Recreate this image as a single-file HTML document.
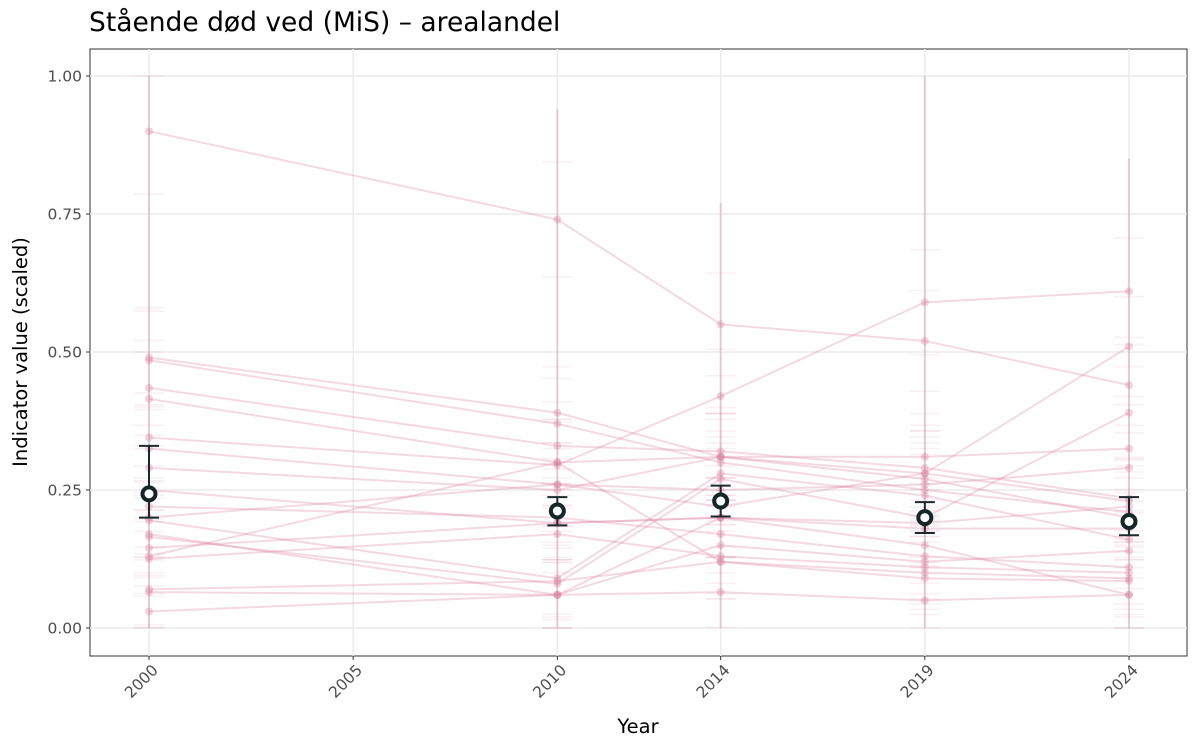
<!DOCTYPE html>
<html><head><meta charset="utf-8"><style>body{margin:0;background:#fff}svg{display:block}text{font-family:"DejaVu Sans","Liberation Sans",sans-serif}</style></head>
<body>
<svg id="s" width="1200" height="750" xmlns="http://www.w3.org/2000/svg">
<text x="89" y="31" font-size="26.5" fill="#000">Stående død ved (MiS) – arealandel</text>
<rect x="90" y="49" width="1097" height="607" fill="#fff" stroke="#333" stroke-width="1"/>
<g id="grid" stroke="#ebebeb" stroke-width="1.5"></g>
<g id="pink"></g>
<g id="mean"></g>
<g id="axes" font-size="15.5" fill="#4d4d4d"></g>
<text x="638" y="733" font-size="19.5" text-anchor="middle" fill="#000">Year</text>
<text transform="translate(27,352) rotate(-90)" font-size="19.5" text-anchor="middle" fill="#000">Indicator value (scaled)</text>
</svg>
<script>
const NS="http://www.w3.org/2000/svg";
function el(p,t,a){const e=document.createElementNS(NS,t);for(const k in a)e.setAttribute(k,a[k]);document.getElementById(p).appendChild(e);return e;}
const X=y=>149+(y-2000)*980/24, Y=v=>628-v*552;
const years=[2000,2010,2014,2019,2024];
for(const v of [0,0.25,0.5,0.75,1]){el('grid','line',{x1:90,x2:1187,y1:Y(v),y2:Y(v)});
 el('axes','line',{x1:86,x2:90,y1:Y(v),y2:Y(v),stroke:'#333'});
 const t=el('axes','text',{x:82,y:Y(v)+5.5,'text-anchor':'end'});t.textContent=v.toFixed(2);}
for(const y of [2000,2005,2010,2014,2019,2024]){el('grid','line',{x1:X(y),x2:X(y),y1:49,y2:656});
 el('axes','line',{x1:X(y),x2:X(y),y1:656,y2:660,stroke:'#333'});
 const t=el('axes','text',{transform:`translate(${X(y)+10},${671}) rotate(-45)`,'text-anchor':'end'});t.textContent=y;}
const D=[[0.90,0.74,0.55,0.52,0.44],[0.49,0.39,0.31,0.28,0.23],[0.485,0.37,0.30,0.25,0.21],[0.435,0.33,0.32,0.29,0.235],[0.415,0.30,0.31,0.27,0.20],[0.345,0.295,0.42,0.59,0.61],[0.325,0.26,0.25,0.26,0.29],[0.29,0.25,0.31,0.31,0.325],[0.25,0.19,0.20,0.18,0.18],[0.20,0.26,0.22,0.28,0.51],[0.195,0.09,0.28,0.24,0.16],[0.17,0.06,0.20,0.15,0.06],[0.165,0.08,0.27,0.20,0.39],[0.145,0.19,0.20,0.19,0.22],[0.125,0.17,0.13,0.11,0.10],[0.07,0.085,0.12,0.09,0.085],[0.065,0.06,0.15,0.12,0.14],[0.03,0.06,0.065,0.05,0.06],[0.22,0.20,0.17,0.13,0.11],[0.13,0.30,0.12,0.10,0.09]];
const pc='#d9819f';
years.forEach((y,i)=>{el('pink','line',{x1:X(y),x2:X(y),y1:Y(i==1?0.94:i==4?0.85:i==2?0.77:1),y2:Y(0),stroke:pc,'stroke-width':2,opacity:0.35});
 D.forEach(d=>{for(const o of [0.06,-0.06]){const v=Math.min(1,Math.max(0,d[i]+o*(1+d[i])));el('pink','line',{x1:X(y)-15,x2:X(y)+15,y1:Y(v),y2:Y(v),stroke:pc,'stroke-width':1.5,opacity:0.12});}});});
D.forEach(d=>{el('pink','polyline',{points:d.map((v,i)=>X(years[i])+','+Y(v)).join(' '),fill:'none',stroke:pc,'stroke-width':2,opacity:0.3});
 d.forEach((v,i)=>el('pink','circle',{cx:X(years[i]),cy:Y(v),r:4,fill:pc,opacity:0.35}));});
const M=[[0.243,0.20,0.33],[0.212,0.186,0.237],[0.23,0.202,0.258],[0.20,0.172,0.228],[0.193,0.168,0.237]];
M.forEach((m,i)=>{const x=X(years[i]);
 el('mean','line',{x1:x,x2:x,y1:Y(m[1]),y2:Y(m[2]),stroke:'#1a2a2a','stroke-width':2});
 for(const v of [m[1],m[2]])el('mean','line',{x1:x-10,x2:x+10,y1:Y(v),y2:Y(v),stroke:'#1a2a2a','stroke-width':2});
 el('mean','circle',{cx:x,cy:Y(m[0]),r:6.5,fill:'#fff',stroke:'#142626','stroke-width':4});});
</script>
</body></html>
